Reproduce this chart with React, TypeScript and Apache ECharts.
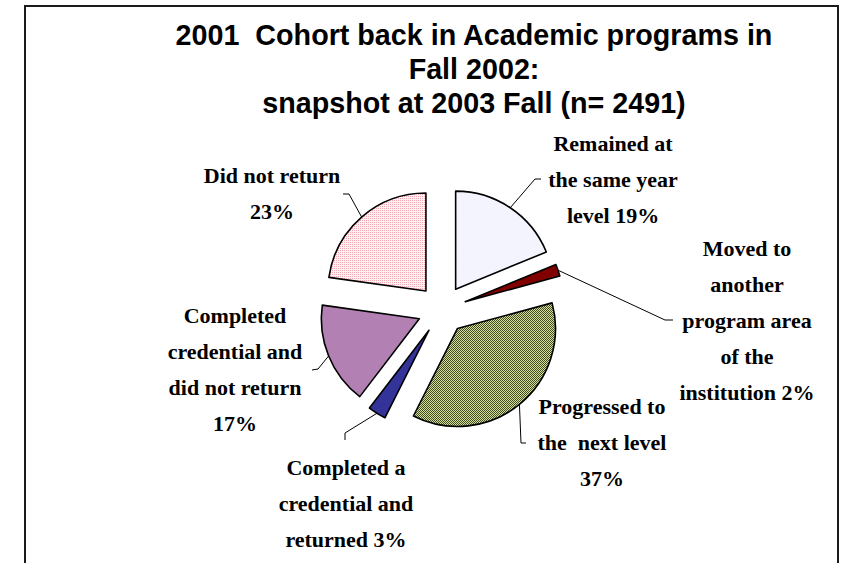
import React, { useEffect, useRef } from "react";
import * as echarts from "echarts";

// ---- data ----
const categories = [
  "Remained at\nthe same year\nlevel ",
  "Moved to\nanother\nprogram area\nof the\ninstitution ",
  "Progressed to\nthe  next level\n",
  "Completed a\ncredential and\nreturned ",
  "Completed\ncredential and\ndid not return\n",
  "Did not return\n",
];
const values = [19, 2, 37, 3, 17, 23];
const titleLines = [
  "2001  Cohort back in Academic programs in",
  "Fall 2002:",
  "snapshot at 2003 Fall (n= 2491)",
];

// ---- layout / style ----
const PIE_CX = 442;
const PIE_CY = 309.5;
const RADIUS = 98;
const EXPLODE = 24.5;

// label centre and the leader line's bend/end points, per slice
const labelAnchors = [
  { x: 613, y: 179, line: [[535, 179], [541, 179]] },
  { x: 747, y: 320, line: [[665, 320], [673, 320]] },
  { x: 602, y: 442, line: [[521, 443], [526, 443]] },
  { x: 346, y: 503, line: [[345, 433], [345, 440]] },
  { x: 235, y: 369, line: [[318, 369], [312, 370]] },
  { x: 272, y: 193, line: [[349, 194], [343, 194]] },
];

function makePattern(cells: string[][]) {
  const h = cells.length;
  const w = cells[0].length;
  const c = document.createElement("canvas");
  c.width = w;
  c.height = h;
  const ctx = c.getContext("2d")!;
  cells.forEach((row, y) =>
    row.forEach((col, x) => {
      ctx.fillStyle = col;
      ctx.fillRect(x, y, 1, 1);
    })
  );
  return { image: c.toDataURL(), repeat: "repeat", imageWidth: w, imageHeight: h };
}

export default function App() {
  const ref = useRef<HTMLDivElement>(null);
  useEffect(() => {
    if (!ref.current) return;
    const chart = echarts.init(ref.current, undefined, { renderer: "svg" });

    const G1 = "#3f4d1e";
    const G2 = "#d6dea2";
    const greenPattern = makePattern([
      [G1, G2],
      [G2, G1],
    ]);
    const P1 = "#f2a9b4";
    const P2 = "#fff0f2";
    const pinkPattern = makePattern([
      [P1, P2],
      [P2, P2],
    ]);
    const fills: any[] = ["#f4f4ff", "#800000", greenPattern, "#333399", "#b380b3", pinkPattern];

    const total = values.reduce((a, b) => a + b, 0);
    let cum = 0;
    const series = values.map((v, i) => {
      const mid = ((cum + v / 2) / total) * Math.PI * 2;
      cum += v;
      const cx = PIE_CX + EXPLODE * Math.sin(mid);
      const cy = PIE_CY - EXPLODE * Math.cos(mid);
      return {
        type: "pie",
        radius: RADIUS,
        center: [cx, cy],
        startAngle: 90,
        clockwise: true,
        silent: true,
        avoidLabelOverlap: false,
        emphasis: { disabled: true },
        data: values.map((val, j) => ({
          name: categories[j],
          value: val,
          itemStyle:
            j === i
              ? { color: fills[j], borderColor: "#000", borderWidth: 1.6 }
              : { color: "rgba(0,0,0,0)", borderColor: "rgba(0,0,0,0)", borderWidth: 0 },
          label: { show: j === i },
          labelLine: { show: j === i },
        })),
        label: {
          position: "outside",
          formatter: (p: any) => p.name + p.value + "%",
          fontFamily: "'Liberation Serif', 'Times New Roman', serif",
          fontWeight: "bold",
          fontSize: 22,
          lineHeight: 36,
          color: "#000",
          align: "center",
        },
        labelLine: {
          show: true,
          length: 10,
          length2: 10,
          lineStyle: { color: "#000", width: 1 },
        },
        labelLayout: (p: any) => {
          if (p.dataIndex !== i) return {};
          const a = labelAnchors[i];
          const start =
            p.labelLinePoints && p.labelLinePoints[0]
              ? p.labelLinePoints[0]
              : [cx + RADIUS * Math.sin(mid), cy - RADIUS * Math.cos(mid)];
          return {
            x: a.x,
            y: a.y,
            align: "center",
            verticalAlign: "middle",
            labelLinePoints: [start, ...a.line],
          };
        },
      };
    });

    chart.setOption({
      animation: false,
      backgroundColor: "#ffffff",
      graphic: [
        {
          type: "rect",
          silent: true,
          shape: { x: 25, y: 6, width: 813, height: 640 },
          style: { fill: "none", stroke: "#1a1a1a", lineWidth: 2 },
        },
        {
          type: "text",
          x: 474,
          y: 18,
          silent: true,
          style: {
            text: titleLines.join("\n"),
            fontFamily: "'Liberation Sans', Arial, sans-serif",
            fontWeight: "bold",
            fontSize: 28.7,
            lineHeight: 34,
            align: "center",
            textAlign: "center",
            verticalAlign: "top",
            fill: "#000",
          },
        },
      ],
      series,
    });
    return () => chart.dispose();
  }, []);
  return (
    <div
      ref={ref}
      style={{ position: "absolute", left: 0, top: 0, width: 842, height: 563 }}
    />
  );
}
